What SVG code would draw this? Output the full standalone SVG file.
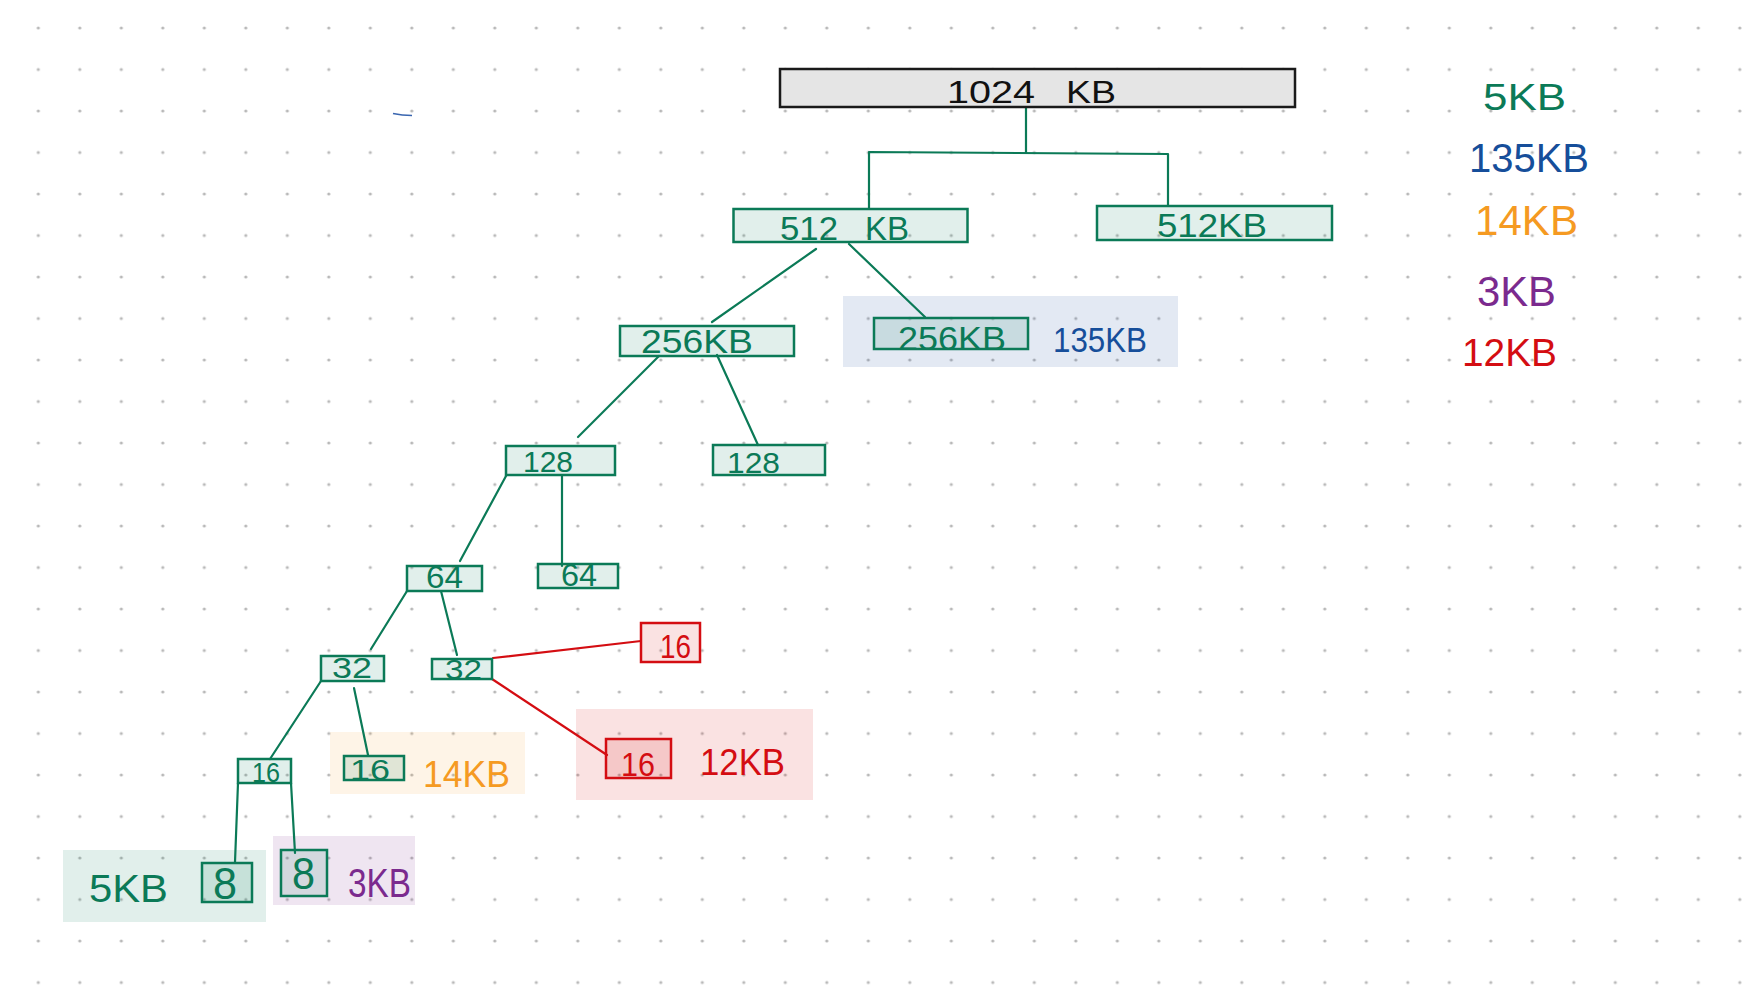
<svg xmlns="http://www.w3.org/2000/svg" width="1761" height="1000" viewBox="0 0 1761 1000">
<defs>
<pattern id="dots" x="17.55" y="7.25" width="41.5" height="41.5" patternUnits="userSpaceOnUse">
<circle cx="20.75" cy="20.75" r="1.6" fill="#b8b8b8"/>
</pattern>
<style>
.g{stroke:#0b7a57;stroke-width:2.5;fill:#0b7a57;fill-opacity:0.12}
.r{stroke:#d40d12;stroke-width:2.5;fill:#d40d12;fill-opacity:0.12}
.c{stroke:#0b7a57;stroke-width:2.2;fill:none;stroke-linecap:round}
.cr{stroke:#d40d12;stroke-width:2.2;fill:none;stroke-linecap:round}
.hb{fill:#164e9a;fill-opacity:0.12}
.ho{fill:#f59a22;fill-opacity:0.11}
.hr{fill:#d40d12;fill-opacity:0.12}
.hg{fill:#0b7a57;fill-opacity:0.12}
.hp{fill:#7b2a8e;fill-opacity:0.12}
text{font-family:"Liberation Sans","DejaVu Sans",sans-serif;}
.tg{fill:#0b7a57}
.tb{fill:#164e9a}
.to{fill:#f59a22}
.tp{fill:#7b2a8e}
.tr{fill:#d40d12}
.tk{fill:#111111}
</style>
</defs>
<rect width="1761" height="1000" fill="#ffffff"/>
<rect width="1761" height="1000" fill="url(#dots)"/>
<path d="M393,113.5 Q402,115.5 412,115.5" stroke="#3a66b0" stroke-width="1.6" fill="none"/>

<g id="highlights">
<rect class="hb" x="843" y="296" width="335" height="71"/>
<rect class="ho" x="330" y="732" width="195" height="62"/>
<rect class="hr" x="576" y="709" width="237" height="91"/>
<rect class="hg" x="63" y="850" width="203" height="72"/>
<rect class="hp" x="273" y="836" width="142" height="69"/>
</g>

<g id="connectors">
<path class="c" d="M1026,107 V152 M869,152 L1168,154 M869,152 V209 M1168,154 V206"/>
<path class="c" d="M816,249 L712,322"/>
<path class="c" d="M849,244 L925,317"/>
<path class="c" d="M659,356 L578,437"/>
<path class="c" d="M717,355 L758,445"/>
<path class="c" d="M506,476 L460,561"/>
<path class="c" d="M562,475 L562,566"/>
<path class="c" d="M407,591 L371,649"/>
<path class="c" d="M441,591 L457,655"/>
<path class="cr" d="M493,658 L641,641"/>
<path class="cr" d="M492,679 L607,755"/>
<path class="c" d="M321,681 L270,759"/>
<path class="c" d="M354,688 L368,755"/>
<path class="c" d="M238,783 L235,862"/>
<path class="c" d="M291,783 L295,853"/>
</g>

<g id="n1024">
<rect x="780" y="69" width="515" height="38" fill="#e5e5e5" stroke="#1a1a1a" stroke-width="2.5"/>
<text class="tk" x="947" y="103" font-size="32"><tspan textLength="88" lengthAdjust="spacingAndGlyphs">1024</tspan><tspan x="1066" textLength="50" lengthAdjust="spacingAndGlyphs">KB</tspan></text>
</g>
<g id="n512a">
<rect class="g" x="733.5" y="209" width="234" height="33"/>
<text class="tg" x="780" y="240" font-size="34"><tspan textLength="58" lengthAdjust="spacingAndGlyphs">512</tspan><tspan x="865" textLength="44" lengthAdjust="spacingAndGlyphs">KB</tspan></text>
</g>
<g id="n512b">
<rect class="g" x="1097" y="206" width="235" height="34"/>
<text class="tg" x="1157" y="237" font-size="34" textLength="110" lengthAdjust="spacingAndGlyphs">512KB</text>
</g>
<g id="n256a">
<rect class="g" x="620" y="326" width="174" height="30"/>
<text class="tg" x="641" y="353" font-size="34" textLength="112" lengthAdjust="spacingAndGlyphs">256KB</text>
</g>
<g id="n256b">
<rect class="g" x="874" y="318" width="154" height="31"/>
<text class="tg" x="898" y="350" font-size="33" textLength="108" lengthAdjust="spacingAndGlyphs">256KB</text>
<text class="tb" x="1053" y="352" font-size="35" textLength="94" lengthAdjust="spacingAndGlyphs">135KB</text>
</g>
<g id="n128a">
<rect class="g" x="506" y="446" width="109" height="29"/>
<text class="tg" x="523" y="472" font-size="30" textLength="50" lengthAdjust="spacingAndGlyphs">128</text>
</g>
<g id="n128b">
<rect class="g" x="713" y="445" width="112" height="30"/>
<text class="tg" x="727" y="473" font-size="30" textLength="53" lengthAdjust="spacingAndGlyphs">128</text>
</g>
<g id="n64a">
<rect class="g" x="407" y="566" width="75" height="25"/>
<text class="tg" x="426" y="588" font-size="31" textLength="37" lengthAdjust="spacingAndGlyphs">64</text>
</g>
<g id="n64b">
<rect class="g" x="538" y="564" width="80" height="24"/>
<text class="tg" x="561" y="586" font-size="31" textLength="36" lengthAdjust="spacingAndGlyphs">64</text>
</g>
<g id="n32a">
<rect class="g" x="321" y="656" width="63" height="25"/>
<text class="tg" x="332" y="678" font-size="29" textLength="40" lengthAdjust="spacingAndGlyphs">32</text>
</g>
<g id="n32b">
<rect class="g" x="432" y="659" width="60" height="20"/>
<text class="tg" x="445" y="679" font-size="28" textLength="37" lengthAdjust="spacingAndGlyphs">32</text>
</g>
<g id="n16red1">
<rect class="r" x="641" y="623" width="59" height="39"/>
<text class="tr" x="660" y="658" font-size="33" textLength="31" lengthAdjust="spacingAndGlyphs">16</text>
</g>
<g id="n16red2">
<rect class="r" x="606" y="739" width="65" height="39"/>
<text class="tr" x="621" y="776" font-size="34" textLength="34" lengthAdjust="spacingAndGlyphs">16</text>
<text class="tr" x="700" y="775" font-size="36" textLength="85" lengthAdjust="spacingAndGlyphs">12KB</text>
</g>
<g id="n16a">
<rect class="g" x="238" y="759" width="53" height="24"/>
<text class="tg" x="252" y="782" font-size="28" textLength="28" lengthAdjust="spacingAndGlyphs">16</text>
</g>
<g id="n16b">
<rect class="g" x="344" y="756" width="60" height="24"/>
<text class="tg" x="350" y="780" font-size="29" textLength="40" lengthAdjust="spacingAndGlyphs">16</text>
<text class="to" x="423" y="787" font-size="36" textLength="87" lengthAdjust="spacingAndGlyphs">14KB</text>
</g>
<g id="n8a">
<rect class="g" x="202" y="863" width="50" height="39"/>
<text class="tg" x="213" y="899" font-size="44" textLength="24" lengthAdjust="spacingAndGlyphs">8</text>
<text class="tg" x="89" y="902" font-size="38" textLength="79" lengthAdjust="spacingAndGlyphs">5KB</text>
</g>
<g id="n8b">
<rect class="g" x="281" y="850" width="46" height="46"/>
<text class="tg" x="292" y="889" font-size="44" textLength="23" lengthAdjust="spacingAndGlyphs">8</text>
<text class="tp" x="348" y="897" font-size="40" textLength="63" lengthAdjust="spacingAndGlyphs">3KB</text>
</g>

<g id="legend">
<text class="tg" x="1483" y="110" font-size="37" textLength="83" lengthAdjust="spacingAndGlyphs">5KB</text>
<text class="tb" x="1469" y="172" font-size="41" textLength="120" lengthAdjust="spacingAndGlyphs">135KB</text>
<text class="to" x="1475" y="235" font-size="42" textLength="103" lengthAdjust="spacingAndGlyphs">14KB</text>
<text class="tp" x="1477" y="306" font-size="42" textLength="79" lengthAdjust="spacingAndGlyphs">3KB</text>
<text class="tr" x="1462" y="366" font-size="38" textLength="95" lengthAdjust="spacingAndGlyphs">12KB</text>
</g>
</svg>
